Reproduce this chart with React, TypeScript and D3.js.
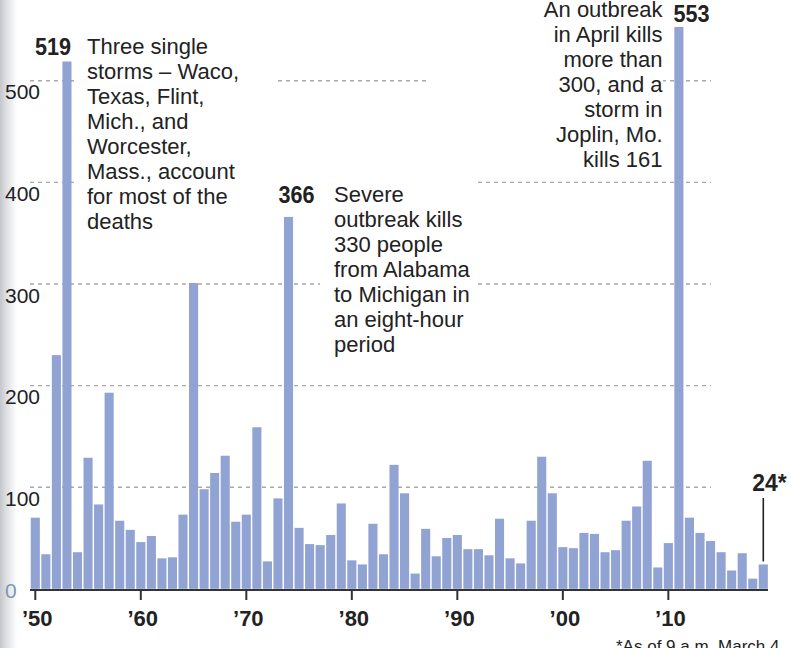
import React from "react";
import * as d3 from "d3";

const years = d3.range(1950, 2020);
const deaths = [
  70, 34, 230, 519, 36, 129, 83, 193, 67, 58,
  46, 52, 30, 31, 73, 301, 98, 114, 131, 66,
  73, 159, 27, 89, 366, 60, 44, 43, 53, 84,
  28, 24, 64, 34, 122, 94, 15, 59, 32, 50,
  53, 39, 39, 33, 69, 30, 25, 67, 130, 94,
  41, 40, 55, 54, 36, 38, 67, 81, 126, 21,
  45, 553, 70, 55, 47, 36, 18, 35, 10, 24,
];
const yTicks = [0, 100, 200, 300, 400, 500];
const xTickYears = [1950, 1960, 1970, 1980, 1990, 2000, 2010];
const xTickLabels = ["\u201950", "\u201960", "\u201970", "\u201980", "\u201990", "\u201900", "\u201910"];

const note1953 = ["Three single", "storms \u2013 Waco,", "Texas, Flint,", "Mich., and", "Worcester,", "Mass., account", "for most of the", "deaths"];
const note1974 = ["Severe", "outbreak kills", "330 people", "from Alabama", "to Michigan in", "an eight-hour", "period"];
const note2011 = ["An outbreak", "in April kills", "more than", "300, and a", "storm in", "Joplin, Mo.", "kills 161"];
const footnote = "*As of 9 a.m. March 4";

const W = 791;
const H = 648;
const FONT = "'Liberation Sans', Arial, Helvetica, sans-serif";
const BAR = "#90a3d2";
const INK = "#222";

export default function App() {
  React.useEffect(() => {
    document.body.style.margin = "0";
  }, []);

  const x = d3.scaleLinear().domain([1950, 2019]).range([35.3, 763.3]);
  const y = d3.scaleLinear().domain([0, 500]).range([588.8, 80.8]);
  const bw = 9.1;
  const lh = 25;

  const iYear = (yr: number) => deaths[years.indexOf(yr)];

  return (
    <svg width={W} height={H} style={{ position: "absolute", left: 0, top: 0, display: "block" }} fontFamily={FONT}>
      <defs>
        <linearGradient id="edge" x1="0" x2="1" y1="0" y2="0">
          <stop offset="0" stopColor="#c3c6ca" />
          <stop offset="0.3" stopColor="#d9dbde" />
          <stop offset="1" stopColor="#ffffff" />
        </linearGradient>
      </defs>
      <rect x={0} y={0} width={W} height={H} fill="#fff" />
      <rect x={0} y={0} width={17} height={H} fill="url(#edge)" />

      {/* gridlines */}
      {yTicks.filter((t) => t > 0).map((t) => (
        <line key={t} x1={30} x2={711} y1={y(t)} y2={y(t)} stroke="#a9a9a9" strokeWidth={1.4} strokeDasharray="4 4" />
      ))}

      {/* annotation backgrounds masking gridlines */}
      <rect x={76} y={25} width={199} height={212} fill="#fff" />
      <rect x={275} y={172} width={203} height={38} fill="#fff" />
      <rect x={320} y={172} width={158} height={190} fill="#fff" />
      <rect x={428} y={0} width={235} height={172} fill="#fff" />

      {/* y labels */}
      {yTicks.map((t) => (
        <text
          key={t}
          x={5}
          y={t === 0 ? y(t) + 9 : y(t) + 18.5}
          fontSize={21}
          fill={t === 0 ? "#7d99b3" : INK}
        >
          {t}
        </text>
      ))}

      {/* bars */}
      {years.map((yr, i) => (
        <rect key={yr} x={x(yr) - bw / 2} y={y(deaths[i])} width={bw} height={y(0) - y(deaths[i])} fill={BAR} />
      ))}

      {/* axis */}
      <line x1={30} x2={768} y1={590} y2={590} stroke="#333" strokeWidth={2} />
      {xTickYears.map((yr, i) => (
        <g key={yr}>
          <line x1={x(yr)} x2={x(yr)} y1={590} y2={600} stroke="#333" strokeWidth={2} />
          <text x={x(yr) + 2} y={626} fontSize={22} fontWeight="bold" textAnchor="middle" fill={INK}>
            {xTickLabels[i]}
          </text>
        </g>
      ))}

      {/* value labels */}
      <text x={x(1953) + 4} y={54.5} fontSize={24} fontWeight="bold" textAnchor="end" fill={INK} textLength={36} lengthAdjust="spacingAndGlyphs">
        {iYear(1953)}
      </text>
      <text x={x(1974) - 10} y={202.7} fontSize={24} fontWeight="bold" fill={INK} textLength={36} lengthAdjust="spacingAndGlyphs">
        {iYear(1974)}
      </text>
      <text x={x(2011) - 5.5} y={21.7} fontSize={24} fontWeight="bold" fill={INK} textLength={36} lengthAdjust="spacingAndGlyphs">
        {iYear(2011)}
      </text>
      <text x={752.3} y={491} fontSize={24} fontWeight="bold" fill={INK} textLength={34.4} lengthAdjust="spacingAndGlyphs">
        {iYear(2019) + "*"}
      </text>
      <line x1={x(2019)} x2={x(2019)} y1={498} y2={y(iYear(2019)) - 3} stroke={INK} strokeWidth={1.6} />

      {/* notes */}
      <text fontSize={22} fill={INK}>
        {note1953.map((s, i) => (
          <tspan key={i} x={87} y={53.5 + i * lh}>{s}</tspan>
        ))}
      </text>
      <text fontSize={22} fill={INK}>
        {note1974.map((s, i) => (
          <tspan key={i} x={334} y={202 + i * lh}>{s}</tspan>
        ))}
      </text>
      <text fontSize={22} fill={INK} textAnchor="end">
        {note2011.map((s, i) => (
          <tspan key={i} x={662.5} y={16.7 + i * lh}>{s}</tspan>
        ))}
      </text>

      <text x={616} y={652} fontSize={17} fill={INK}>{footnote}</text>
    </svg>
  );
}
